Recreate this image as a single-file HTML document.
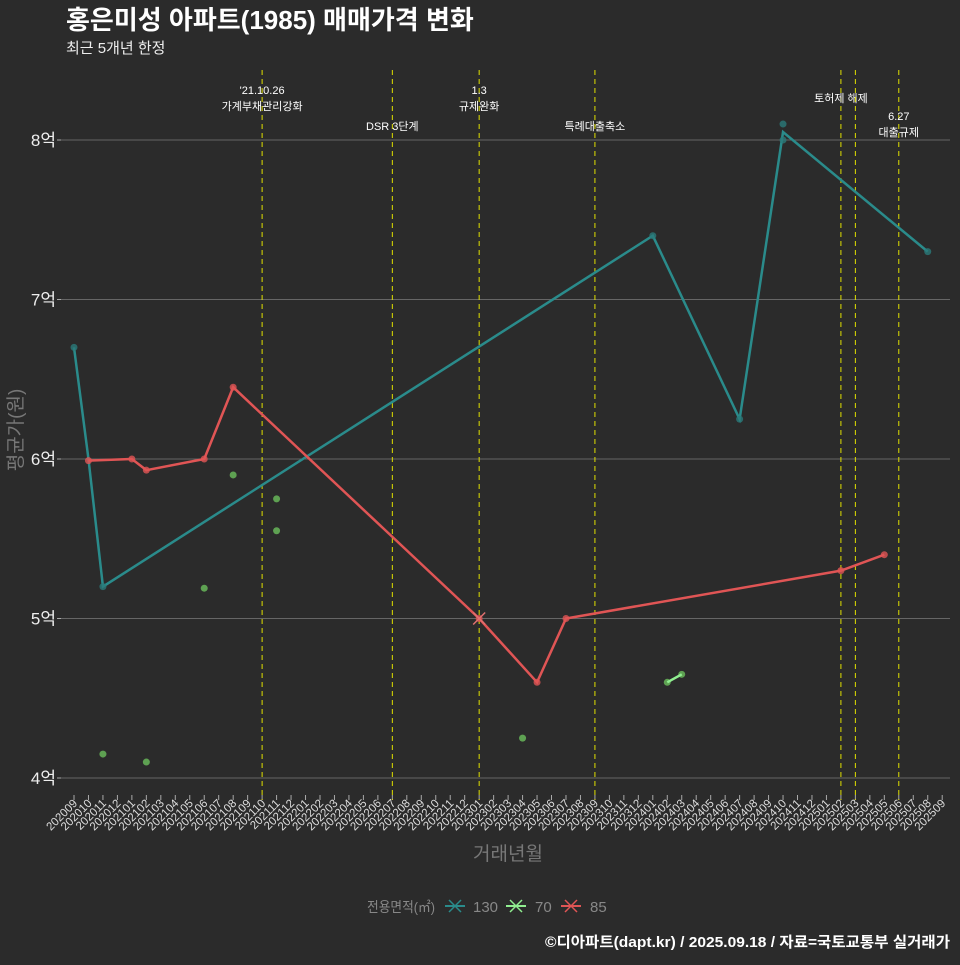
<!DOCTYPE html>
<html><head><meta charset="utf-8"><style>
body{margin:0;background:#2b2b2b;width:960px;height:960px;overflow:hidden;font-family:"Liberation Sans","Noto Sans CJK KR",sans-serif}
svg text{font-family:"Liberation Sans","Noto Sans CJK KR",sans-serif}
</style></head><body>
<svg id="c" width="960" height="960" xmlns="http://www.w3.org/2000/svg">
<rect width="960" height="960" fill="#2b2b2b"/>
<text x="66" y="29" fill="#fff" font-size="26" font-weight="bold">홍은미성 아파트(1985) 매매가격 변화</text>
<text x="66" y="53" fill="#eee" font-size="15">최근 5개년 한정</text>
<text transform="translate(22,430) rotate(-90)" text-anchor="middle" fill="#777" font-size="19">평균가(원)</text>
<text x="508" y="860" text-anchor="middle" fill="#777" font-size="19">거래년월</text>
<g>
<text x="367" y="912" fill="#888" font-size="14" textLength="68" lengthAdjust="spacingAndGlyphs">전용면적(㎡)</text>
<g><line x1="445" y1="906" x2="465" y2="906" stroke="#2a8b8b" stroke-width="2"/><path d="M449,900L461,912M461,900L449,912" stroke="#2a8b8b" stroke-width="1.5"/><text x="473" y="912" fill="#888" font-size="15">130</text></g>
<g><line x1="506" y1="906" x2="526" y2="906" stroke="#90ee90" stroke-width="2"/><path d="M510,900L522,912M522,900L510,912" stroke="#90ee90" stroke-width="1.5"/><text x="535" y="912" fill="#888" font-size="15">70</text></g>
<g><line x1="561" y1="906" x2="581" y2="906" stroke="#e05555" stroke-width="2"/><path d="M565,900L577,912M577,900L565,912" stroke="#e05555" stroke-width="1.5"/><text x="590" y="912" fill="#888" font-size="15">85</text></g>
</g>
<text x="950" y="947" text-anchor="end" fill="#fff" font-size="15" font-weight="bold" textLength="405" lengthAdjust="spacingAndGlyphs">©디아파트(dapt.kr) / 2025.09.18 / 자료=국토교통부 실거래가</text>
<g id="plot"></g>
</svg>
<script>
const months=[];for(let y=2020,m=9;months.length<61;){months.push(y+String(m).padStart(2,'0'));m++;if(m>12){m=1;y++;}}
const yTicks=[4,5,6,7,8];
const s130x=['202009','202010','202011','202401','202407','202410','202508'];
const s130y=[6.7,6.0,5.2,7.4,6.25,8.05,7.3];
const p130x=['202009','202011','202401','202407','202410','202410','202508'];
const p130y=[6.7,5.2,7.4,6.25,8.1,8.0,7.3];
const s85x=['202010','202101','202102','202106','202108','202301','202305','202307','202502','202505'];
const s85y=[5.99,6.0,5.93,6.0,6.45,5.0,4.6,5.0,5.3,5.4];
const p70x=['202011','202102','202106','202108','202111','202111','202304','202402','202403'];
const p70y=[4.15,4.1,5.19,5.9,5.75,5.55,4.25,4.6,4.65];
const l70x=['202402','202403'];const l70y=[4.6,4.65];
const events=['202110','202207','202301','202309','202502','202503','202506'];
const eventLabels=[["'21.10.26","가계부채관리강화"],["DSR 3단계"],["1.3","규제완화"],["특례대출축소"],["토허제 해제"],[""],["6.27","대출규제"]];
const eventLabelY=[[94,110],[130],[94,110],[130],[102],[0],[120,136]];
const X=m=>74+months.indexOf(m)*14.47;
const Y=v=>778-(v-4)*159.5;
const g=document.getElementById('plot');const NS='http://www.w3.org/2000/svg';
function el(t,a,p){const e=document.createElementNS(NS,t);for(const k in a)e.setAttribute(k,a[k]);(p||g).appendChild(e);return e;}
yTicks.forEach(v=>{
 const l=el('line',{x1:60,x2:950,y1:Y(v),y2:Y(v),stroke:'#666','stroke-width':1});
 
 
 const t=el('text',{x:56,y:Y(v)+6,'text-anchor':'end',fill:'#eee','font-size':17});t.textContent=v+'억';
 
 
 el('line',{x1:57,x2:61,y1:Y(v),y2:Y(v),stroke:'#aaa'});
});
months.forEach(m=>{
 const x=X(m);el('line',{x1:x,x2:x,y1:795,y2:800,stroke:'#aaa'});
 const t=el('text',{transform:`translate(${x+4},804) rotate(-45)`,'text-anchor':'end',fill:'#ddd','font-size':11.5});t.textContent=m;
 
 
});
events.forEach((m,i)=>{
 const x=X(m);const l=el('line',{x1:x,x2:x,y1:70,y2:800,stroke:'#e0e000','stroke-dasharray':'5,4','stroke-width':1});
 
 
 eventLabels[i].forEach((s,j)=>{if(!s)return;const t=el('text',{x:x,y:eventLabelY[i][j],'text-anchor':'middle',fill:'#fff','font-size':11});t.textContent=s;
 
 });
});
function line(xs,ys,c,n){const p=el('polyline',{points:xs.map((m,i)=>X(m)+','+Y(ys[i])).join(' '),fill:'none',stroke:c,'stroke-width':2.5});
 
 }
function pts(xs,ys,c,n){xs.forEach((m,i)=>{const e=el('circle',{cx:X(m),cy:Y(ys[i]),r:3.5,fill:c,opacity:0.8});
 
 });}
line(s130x,s130y,'#2a8b8b','line-130');pts(p130x,p130y,'#2a7b7b','point-130');
pts(p70x,p70y,'#6cbf5c','point-70');line(l70x,l70y,'#90ee90','line-70');
line(s85x,s85y,'#e05555','line-85');pts(s85x,s85y,'#e05555','point-85');
const cx=X('202301'),cy=Y(5.0);el('path',{d:`M${cx-6},${cy-6}L${cx+6},${cy+6}M${cx+6},${cy-6}L${cx-6},${cy+6}`,stroke:'#e07070','stroke-width':1.5});
</script>
</body></html>
